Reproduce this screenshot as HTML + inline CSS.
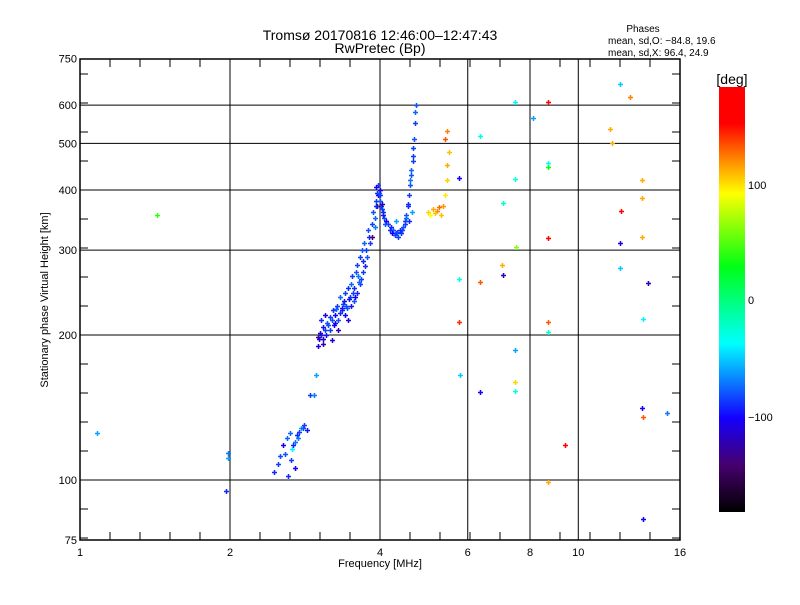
<!DOCTYPE html>
<html><head><meta charset="utf-8"><style>
body{margin:0;background:#fff;}
svg text{font-family:"Liberation Sans",sans-serif;fill:#000;}
</style></head><body>
<svg id="chart" width="800" height="600" xmlns="http://www.w3.org/2000/svg">
<defs><linearGradient id="cb" x1="0" y1="1" x2="0" y2="0">
<stop offset="0" stop-color="#000"/>
<stop offset="0.111" stop-color="#46006e"/>
<stop offset="0.222" stop-color="#1400ff"/>
<stop offset="0.397" stop-color="#00ffff"/>
<stop offset="0.578" stop-color="#00ff14"/>
<stop offset="0.75" stop-color="#ffff00"/>
<stop offset="0.82" stop-color="#ff9600"/>
<stop offset="0.914" stop-color="#ff0000"/>
<stop offset="1" stop-color="#ff0000"/>
</linearGradient></defs>
<g id="grid"></g><g id="marks"></g><g id="axes"></g>
<text x="380" y="40" text-anchor="middle" font-size="14">Tromsø 20170816 12:46:00–12:47:43</text>
<text x="380" y="53" text-anchor="middle" font-size="14">RwPretec (Bp)</text>
<text x="643" y="32" text-anchor="middle" font-size="10">Phases</text>
<text x="608" y="44" font-size="10">mean, sd,O: −84.8, 19.6</text>
<text x="608" y="56" font-size="10">mean, sd,X:  96.4, 24.9</text>
<text x="380" y="567" text-anchor="middle" font-size="11">Frequency [MHz]</text>
<text transform="translate(48,300) rotate(-90)" text-anchor="middle" font-size="11">Stationary phase Virtual Height [km]</text>
<rect x="719" y="87" width="26" height="425" fill="url(#cb)"/>
<text x="732" y="84" text-anchor="middle" font-size="14">[deg]</text>
<text x="748" y="189" font-size="11">100</text>
<text x="748" y="304" font-size="11">0</text>
<text x="748" y="421" font-size="11">−100</text>
</svg>
<script>
const freqs=[2.45,2.5,2.52,2.55,2.6,2.62,2.65,2.66,2.7,2.72,2.75,2.78,2.8,2.85,2.9,2.95,2.98,
3.0,3.02,3.05,3.08,3.1,3.12,3.15,3.05,3.1,3.18,3.2,3.22,3.25,3.28,3.3,3.32,3.35,3.38,3.4,3.42,3.45,3.48,3.5,3.52,3.55,3.58,3.6,3.62,3.65,3.68,3.7,3.72,3.75,3.78,3.8,3.85,3.88,3.9,3.92,3.95,3.97,4.0,4.0,4.02,4.05,4.08,4.12,4.15,4.2,4.25,4.3,4.35,4.4,4.45,4.5,4.52,4.55,4.58,4.6,4.62,4.65,4.68,4.7,4.72,4.63,4.58,3.3,3.2,3.4,3.5,3.6,3.7,3.45,3.55,3.65,3.0,3.08,3.25,3.35,3.85,3.95,4.3,4.42,4.6,4.66,
2.58,2.68,2.74,2.82,2.7,2.64,3.03,3.07,3.13,3.17,3.23,3.27,3.33,3.37,3.43,3.47,3.53,3.57,3.63,3.67,3.73,3.77,3.82,3.9,3.93,3.96,3.99,4.03,4.06,4.1,4.18,4.22,4.28,4.33,4.38,4.48,4.52,4.55,4.62,4.66,4.7,3.93,4.0,4.04,
5.0,5.1,5.2,5.3,5.35,5.4,5.45,5.45,5.5,5.45,5.4,5.05,5.25,5.15,
1.43,1.08,1.98,1.98,1.96,5.77,5.75,5.77,5.8,6.36,6.34,6.34,7.06,7.03,7.06,7.45,7.45,7.5,7.45,7.45,7.45,8.1,8.7,8.7,8.7,8.7,8.7,8.7,8.7,9.4,11.6,11.7,12.1,12.7,12.2,12.1,12.1,13.4,13.4,13.4,13.8,13.5,13.4,13.5,15.1,13.5];
const heights=[104,108,112,118,122,102,110,116,120,124,126,128,128,127,150,150,165,
190,196,200,196,205,200,210,215,220,205,215,225,220,230,215,240,225,235,245,230,250,240,255,265,250,270,280,265,290,300,285,310,300,330,320,340,360,350,380,395,410,400,380,370,360,350,345,340,335,330,325,320,325,335,340,355,370,390,410,440,470,510,550,600,360,345,205,195,220,230,245,270,215,235,255,198,192,212,228,320,370,345,330,420,490,
113,118,122,130,106,125,202,208,212,218,210,226,222,232,228,238,244,240,258,262,278,290,310,335,370,390,395,365,355,340,330,325,322,328,330,345,350,375,430,460,580,405,390,375,
360,365,362,355,370,390,420,450,480,530,510,355,368,358,
355,125,114,111,95,424,262,213,165,518,258,152,376,280,267,610,421,305,186,160,153,565,610,456,447,318,213,203,99,118,536,500,664,623,362,310,275,419,385,320,256,216,141,135,138,83];
const phases=[-90,-85,-80,-100,-75,-90,-85,-40,-70,-90,-85,-60,-80,-95,-85,-70,-60,
-110,-100,-90,-120,-85,-95,-80,-90,-110,-85,-80,-90,-100,-85,-80,-75,-90,-95,-85,-80,-90,-85,-75,-85,-90,-80,-85,-70,-85,-80,-90,-75,-85,-80,-90,-85,-80,-75,-85,-90,-85,-110,-80,-85,-90,-80,-100,-85,-90,-80,-95,-85,-90,-80,-85,-80,-90,-85,-80,-75,-85,-80,-85,-80,-60,-90,-120,-110,-100,-95,-90,-85,-110,-80,-85,-130,-120,-105,-95,-140,-150,-60,-80,-70,-85,
-80,-90,-70,-85,-100,-75,-110,-95,-80,-85,-100,-75,-90,-85,-80,-95,-85,-100,-75,-85,-90,-80,-85,-70,-90,-100,-80,-85,-95,-80,-90,-100,-85,-80,-90,-85,-75,-90,-80,-85,-75,-100,-85,-120,
100,110,120,105,115,95,100,110,105,120,130,90,125,105,
40,-60,-70,-60,-90,-100,-30,140,-50,-30,130,-100,-20,110,-120,-40,-30,60,-60,100,-30,-60,170,-30,30,170,130,-20,110,150,110,110,-50,120,170,-110,-50,110,110,110,-120,-40,-100,130,-70,-100];
const xTickVals=[1,2,4,6,8,10,16], yTickVals=[75,100,200,300,400,500,600,750];
const gridX=[2,4,6,8,10], gridY=[100,200,300,400,500,600];
const L=80,R=680,T=59,B=540;
const xs=f=>L+150*Math.log2(f);
const ys=h=>480-145*Math.log2(h/100);
function color(p){
  const st=[[-180,0,0,0],[-140,70,0,110],[-100,20,0,255],[-37,0,255,255],[28,0,255,20],[90,255,255,0],[115,255,150,0],[149,255,0,0],[180,255,0,0]];
  p=Math.max(-180,Math.min(180,p));
  for(let i=1;i<st.length;i++){if(p<=st[i][0]){const a=st[i-1],b=st[i],t=(p-a[0])/(b[0]-a[0]);
  return `rgb(${Math.round(a[1]+t*(b[1]-a[1]))},${Math.round(a[2]+t*(b[2]-a[2]))},${Math.round(a[3]+t*(b[3]-a[3]))})`;}}
  return 'red';
}
const NS='http://www.w3.org/2000/svg';
function mk(tag,attrs,parent){const e=document.createElementNS(NS,tag);for(const k in attrs)e.setAttribute(k,attrs[k]);parent.appendChild(e);return e;}
const grid=document.getElementById('grid'),marks=document.getElementById('marks'),axes=document.getElementById('axes');
gridX.forEach(v=>{const e=mk('line',{x1:xs(v),x2:xs(v),y1:T,y2:B,stroke:'#000','stroke-width':1},grid);

});
gridY.forEach(v=>{const e=mk('line',{x1:L,x2:R,y1:ys(v),y2:ys(v),stroke:'#000','stroke-width':1},grid);

});
for(let i=0;i<freqs.length;i++){
  const x=Math.round(xs(freqs[i])),y=Math.round(ys(heights[i])),c=color(phases[i]);
  const e=mk('path',{d:`M${x-2} ${y+0.5}h5M${x+0.5} ${y-2}v5`,stroke:c,'stroke-width':1.5},marks);
  
  
}
const frame=mk('rect',{x:L,y:T,width:R-L,height:B-T,fill:'none',stroke:'#000','stroke-width':1.5},axes);


for(let k=0;k<=20;k++){const x=L+30*k;
  const a=mk('path',{d:`M${x} ${B}v-8M${x} ${T}v8`,stroke:'#000'},axes);
  
  }
for(let k=-2;k<=14;k++){const y=480-29*k;if(y<T||y>B)continue;
  const a=mk('path',{d:`M${L} ${y}h8M${R} ${y}h-8`,stroke:'#000'},axes);
  
  }
xTickVals.forEach(v=>{const t=mk('text',{x:xs(v),y:B+16,'text-anchor':'middle','font-size':11},axes);t.textContent=v;

});
yTickVals.forEach(v=>{const t=mk('text',{x:L-3,y:ys(v)+4,'text-anchor':'end','font-size':11},axes);t.textContent=v;

});
</script>
</body></html>
